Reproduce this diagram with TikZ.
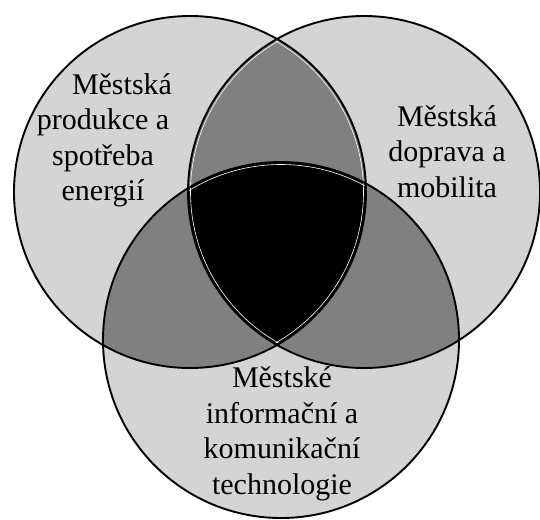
\documentclass[tikz,border=0pt]{standalone}
\usepackage{fontspec}
\setmainfont{Liberation Serif}
\newfontfamily\labelfont{Liberation Serif}
\definecolor{vlight}{HTML}{D4D4D4}
\definecolor{vdark}{HTML}{808080}
\begin{document}
\begin{tikzpicture}[x=1pt,y=-1pt,
  outline/.style={draw=black,line width=1.9pt},
  innerline/.style={draw=white,line width=0.6pt},
  label/.style={align=center,inner sep=0pt,font=\labelfont\fontsize{30}{35.5}\selectfont}]
\useasboundingbox (0,0) rectangle (540,519);
\def\rL{176pt}\def\rR{176pt}\def\rB{178pt}
\def\rLi{173.5pt}\def\rRi{173.5pt}\def\rBi{175.5pt}
\coordinate (cL) at (190,192);
\coordinate (cR) at (364,192);
\coordinate (cB) at (281,340);
% single regions
\fill[vlight] (cL) circle[radius=\rL];
\fill[vlight] (cR) circle[radius=\rR];
\fill[vlight] (cB) circle[radius=\rB];
% pairwise overlaps
\begin{scope}
  \clip (cL) circle[radius=\rL];
  \fill[vdark] (cR) circle[radius=\rR];
  \fill[vdark] (cB) circle[radius=\rB];
\end{scope}
\begin{scope}
  \clip (cR) circle[radius=\rR];
  \fill[vdark] (cB) circle[radius=\rB];
\end{scope}
% triple overlap
\begin{scope}
  \clip (cL) circle[radius=\rL];
  \clip (cR) circle[radius=\rR];
  \fill[black] (cB) circle[radius=\rB];
  \path[innerline] (cL) circle[radius=\rLi];
  \path[innerline] (cR) circle[radius=\rRi];
  \path[innerline] (cB) circle[radius=\rBi];
\end{scope}
% outlines
\path[outline] (cL) circle[radius=\rL];
\path[outline] (cR) circle[radius=\rR];
\path[outline] (cB) circle[radius=\rB];
% labels
\node[label] (tL) at (103,140.5) {\hspace*{38pt}Městská\\produkce a\\spotřeba\\energií};
\node[label] (tR) at (447,151.4) {Městská\\doprava a\\mobilita};
\node[label] (tB) at (282,434) {Městské\\informační a\\komunikační\\technologie};
\end{tikzpicture}
\end{document}
